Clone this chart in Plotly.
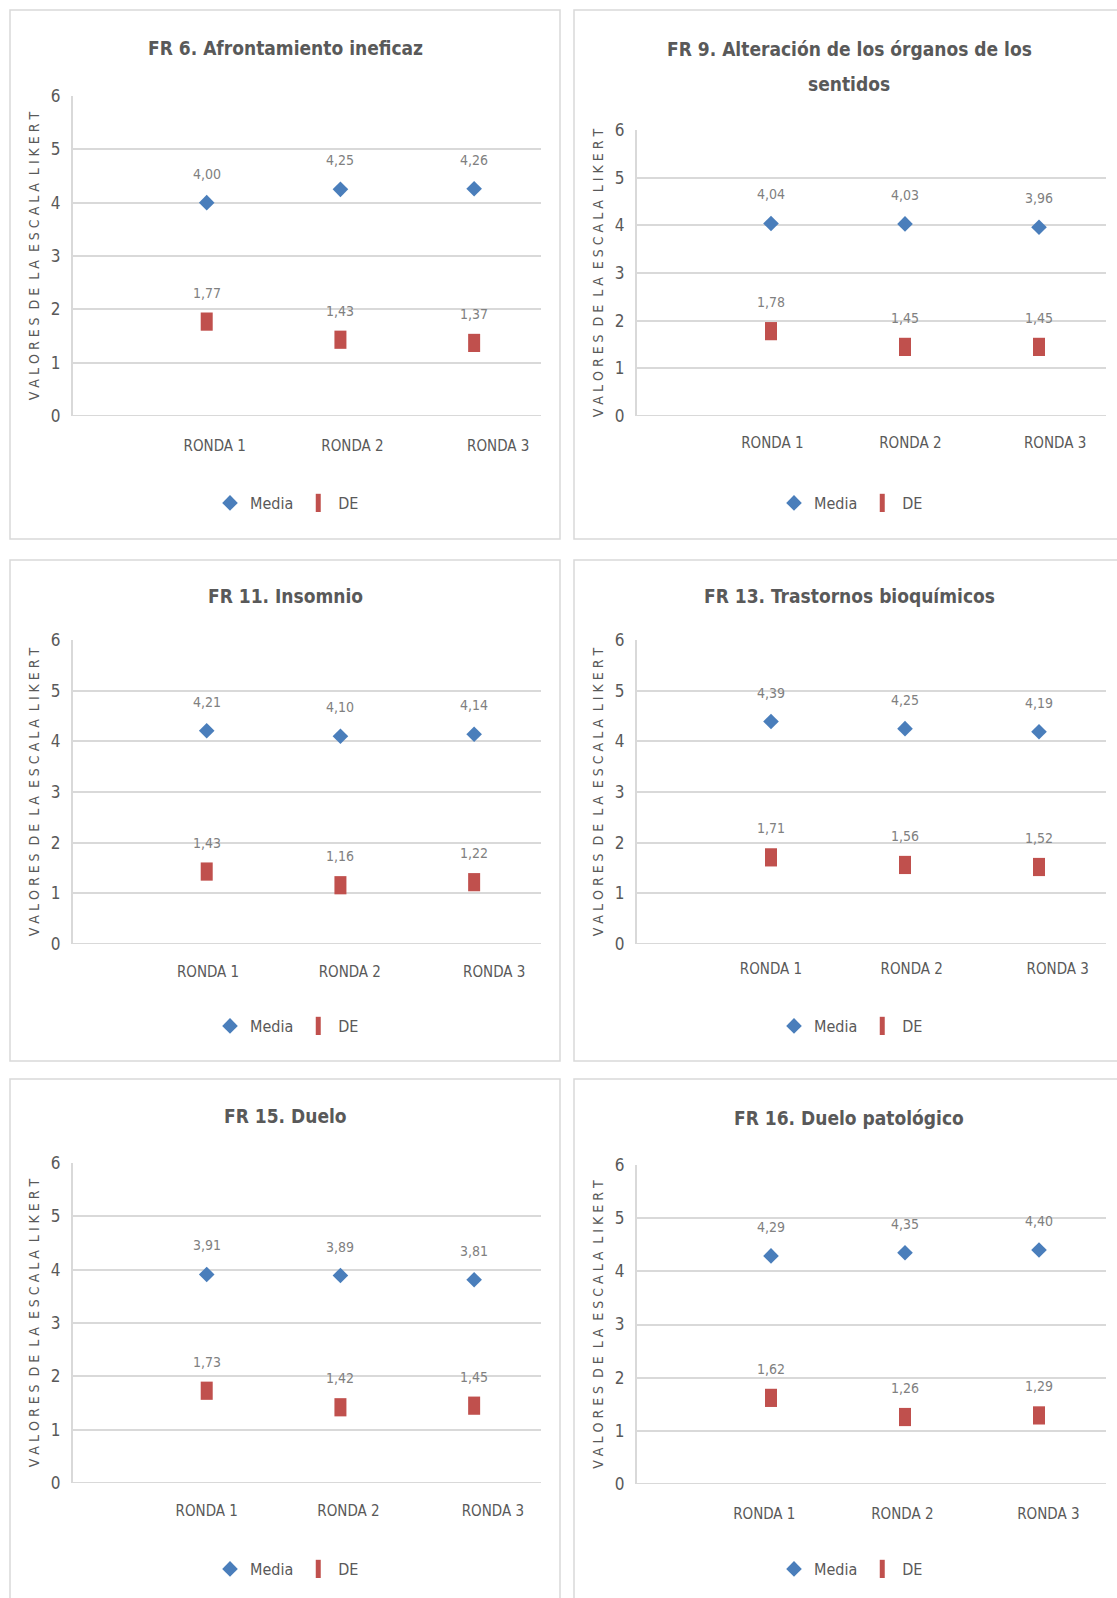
import plotly.graph_objects as go

W, H = 1117, 1598

# --- data ---------------------------------------------------------------
rondas = ["RONDA 1", "RONDA 2", "RONDA 3"]
ronda_pos = [1, 2, 3]

titulos = [
    ["FR 6. Afrontamiento ineficaz"],
    ["FR 9. Alteración de los órganos de los", "sentidos"],
    ["FR 11. Insomnio"],
    ["FR 13. Trastornos bioquímicos"],
    ["FR 15. Duelo"],
    ["FR 16. Duelo patológico"],
]

media_fr6 = [4.00, 4.25, 4.26]
de_fr6 = [1.77, 1.43, 1.37]
media_fr9 = [4.04, 4.03, 3.96]
de_fr9 = [1.78, 1.45, 1.45]
media_fr11 = [4.21, 4.10, 4.14]
de_fr11 = [1.43, 1.16, 1.22]
media_fr13 = [4.39, 4.25, 4.19]
de_fr13 = [1.71, 1.56, 1.52]
media_fr15 = [3.91, 3.89, 3.81]
de_fr15 = [1.73, 1.42, 1.45]
media_fr16 = [4.29, 4.35, 4.40]
de_fr16 = [1.62, 1.26, 1.29]

medias = [media_fr6, media_fr9, media_fr11, media_fr13, media_fr15, media_fr16]
des = [de_fr6, de_fr9, de_fr11, de_fr13, de_fr15, de_fr16]

# --- layout geometry (pixels) ---------------------------------------------
frames = [
    (10, 10, 560, 539), (574, 10, 1130, 539),
    (10, 560, 560, 1061), (574, 560, 1130, 1061),
    (10, 1079, 560, 1620), (574, 1079, 1130, 1620),
]
areas = [
    (73, 96, 541, 416), (637, 130, 1106, 416),
    (73, 640, 541, 944), (637, 640, 1106, 944),
    (73, 1163, 541, 1483), (637, 1165, 1106, 1484),
]
title_y = [48, 49, 596, 596, 1116, 1118]
legend_y = [503, 503, 1026, 1026, 1569, 1569]
xlabel_standoff = [19, 16, 17, 14, 17, 19]
tick_shift = [
    [0.06, 0.09, 0.18], [0.01, 0.04, 0.12],
    [0.01, 0.07, 0.15], [0.00, 0.05, 0.14],
    [0.00, 0.06, 0.14], [-0.05, -0.02, 0.07],
]

AZUL = "#4A7EBB"
ROJO = "#C0504D"
GRIS = "#595959"
GRIS_ETIQ = "#808080"
REJILLA = "#D9D9D9"
FUENTE = "DejaVu Sans Condensed, Liberation Sans Narrow, sans-serif"

def fx(px):
    return px / W

def fy(py):
    return 1 - py / H

def coma(v):
    return f"{v:.2f}".replace(".", ",")

fig = go.Figure()
layout = dict(
    width=W, height=H,
    margin=dict(l=0, r=0, t=0, b=0, autoexpand=False),
    paper_bgcolor="white", plot_bgcolor="white",
    font=dict(family=FUENTE, color=GRIS),
    shapes=[], annotations=[],
)

ytitle = "V A L O R E S  D E  L A  E S C A L A  L I K E R T"

for i in range(6):
    n = "" if i == 0 else str(i + 1)
    xa, ya = f"x{n}", f"y{n}"
    leg = "legend" if i == 0 else f"legend{i + 1}"
    x0, y0, x1, y1 = areas[i]

    fig.add_trace(go.Scatter(
        x=ronda_pos, y=medias[i], mode="markers", name="Media",
        xaxis=xa, yaxis=ya, legend=leg,
        marker=dict(symbol="diamond", size=12, color=AZUL,
                    line=dict(width=0)),
        cliponaxis=False,
    ))
    # upright rectangle: a thick vertical stroke
    fig.add_trace(go.Scatter(
        x=ronda_pos, y=des[i], mode="markers", name="DE",
        xaxis=xa, yaxis=ya, legend=leg,
        marker=dict(symbol="line-ns", size=13, color=ROJO,
                    line=dict(width=12, color=ROJO)),
        cliponaxis=False,
    ))

    # value labels above each point
    for serie in (medias[i], des[i]):
        for xv, yv in zip(ronda_pos, serie):
            layout["annotations"].append(dict(
                x=xv, y=yv, xref=xa, yref=ya, text=coma(yv),
                showarrow=False, yshift=29,
                font=dict(size=14, color=GRIS_ETIQ, family=FUENTE),
            ))

    layout[f"xaxis{n}"] = dict(
        domain=[fx(x0), fx(x1)], range=[0, 3.5], anchor=ya,
        tickmode="array",
        tickvals=[p + s for p, s in zip(ronda_pos, tick_shift[i])],
        ticktext=rondas, ticks="", showgrid=False, zeroline=False,
        showline=False, ticklabelstandoff=xlabel_standoff[i],
        tickfont=dict(size=15, color=GRIS, family=FUENTE),
        fixedrange=True,
    )
    layout[f"yaxis{n}"] = dict(
        domain=[fy(y1), fy(y0)], range=[0, 6], anchor=xa,
        tickmode="array", tickvals=[0, 1, 2, 3, 4, 5, 6],
        showgrid=True, gridcolor=REJILLA, gridwidth=2,
        zeroline=False, showline=True, linecolor=REJILLA, linewidth=2,
        ticks="", ticklabelstandoff=7,
        tickfont=dict(size=17, color=GRIS, family=FUENTE),
        title=dict(text=ytitle, standoff=8,
                   font=dict(size=14, color=GRIS, family=FUENTE)),
        fixedrange=True,
    )

    # bottom axis line at 0 in gridline colour
    layout["shapes"].append(dict(
        type="line", xref=f"{xa} domain", yref=ya,
        x0=0, x1=1, y0=0, y1=0, line=dict(color=REJILLA, width=2),
    ))

    # chart frame
    fx0, fy0, fx1, fy1 = frames[i]
    layout["shapes"].append(dict(
        type="rect", xref="paper", yref="paper",
        x0=fx(fx0), x1=fx(fx1), y0=fy(fy1), y1=fy(fy0),
        line=dict(color=REJILLA, width=1.5), layer="below",
    ))

    # chart title, one annotation per line
    cx = 285 if i % 2 == 0 else 849
    for k, linea in enumerate(titulos[i]):
        layout["annotations"].append(dict(
            x=fx(cx), y=fy(title_y[i] + 35 * k), xref="paper", yref="paper",
            text=f"<b>{linea}</b>", showarrow=False,
            xanchor="center", yanchor="middle",
            font=dict(size=19, color=GRIS, family=FUENTE),
        ))

    # legend under each chart
    layout[leg] = dict(
        orientation="h", x=fx(287 if i % 2 == 0 else 851), y=fy(legend_y[i]),
        xanchor="center", yanchor="middle",
        font=dict(size=16, color=GRIS, family=FUENTE),
        itemwidth=30, tracegroupgap=0, bgcolor="rgba(0,0,0,0)",
    )

fig.update_layout(**layout)
fig.write_html("out.html")
